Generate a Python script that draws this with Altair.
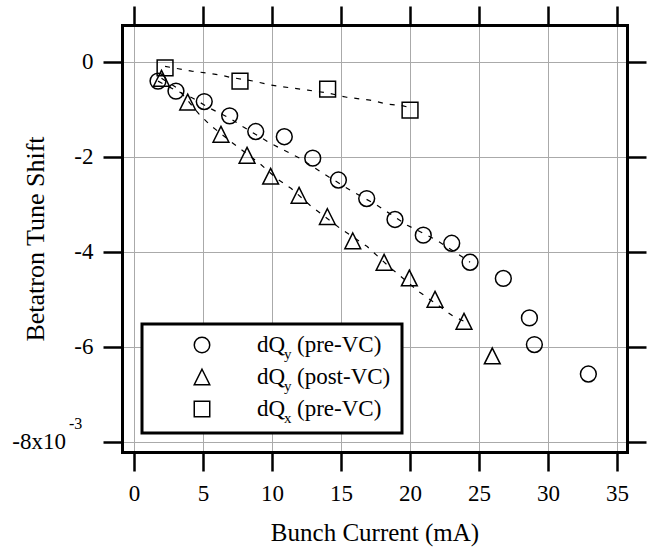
import altair as alt
import pandas as pd

# ---- data (tune shift in units of 1e-3) ----
circ_x = [1.74, 3.04, 5.09, 6.93, 8.82, 10.89, 12.95, 14.81, 16.86, 18.91, 20.96, 23.02, 24.35, 26.76, 28.65, 29.01, 32.92]
circ_y = [-0.41, -0.62, -0.84, -1.14, -1.47, -1.58, -2.03, -2.49, -2.88, -3.32, -3.65, -3.82, -4.22, -4.56, -5.39, -5.95, -6.57]

tri_x = [1.99, 3.89, 6.30, 8.19, 9.90, 11.96, 14.01, 15.85, 18.12, 19.95, 21.81, 23.91, 25.96]
tri_y = [-0.35, -0.85, -1.53, -1.97, -2.41, -2.81, -3.26, -3.77, -4.22, -4.55, -5.00, -5.46, -6.19]

sq_x = [2.25, 7.68, 14.03, 20.0]
sq_y = [-0.13, -0.41, -0.58, -1.02]

# dashed fit curves
fit_c_x = [1.74, 3.0, 4.2, 5.5, 7.0, 7.9, 9.9, 12.0, 13.7, 15.65, 17.6, 19.8, 21.9, 23.6, 24.35]
fit_c_y = [-0.41, -0.60, -0.76, -0.98, -1.20, -1.37, -1.72, -2.03, -2.35, -2.70, -3.02, -3.44, -3.75, -4.07, -4.22]
fit_t_x = [1.99, 3.1, 3.9, 4.7, 5.5, 7.0, 9.1, 10.3, 11.4, 12.75, 14.9, 16.9, 18.55, 20.7, 22.2, 23.1, 23.91]
fit_t_y = [-0.35, -0.55, -0.82, -1.10, -1.33, -1.68, -2.14, -2.45, -2.67, -3.02, -3.50, -3.89, -4.33, -4.85, -5.16, -5.35, -5.46]
fit_s_x = [2.25, 3.21, 4.18, 5.27, 6.23, 6.96, 8.65, 9.86, 11.3, 12.6, 14.03, 15.41, 17.1, 18.3, 19.5, 20.0]
fit_s_y = [-0.10, -0.15, -0.20, -0.24, -0.28, -0.33, -0.41, -0.49, -0.55, -0.60, -0.66, -0.75, -0.81, -0.89, -0.93, -0.97]

series_names = ["circ", "tri", "sq"]
legend_main = ["dQ", "dQ", "dQ"]
legend_sub = ["y", "y", "x"]
legend_rest = ["(pre-VC)", "(post-VC)", "(pre-VC)"]

x_ticks = [0, 5, 10, 15, 20, 25, 30, 35]
y_ticks = [0, -2, -4, -6, -8]
exp_label = ["-8x10"]
exp_value = [-8]
exp_sup = "-3"

# ---- tables ----
pts = pd.DataFrame({
    "x": circ_x + tri_x + sq_x,
    "y": circ_y + tri_y + sq_y,
    "series": ["circ"] * len(circ_x) + ["tri"] * len(tri_x) + ["sq"] * len(sq_x),
})
fits = pd.DataFrame({
    "x": fit_c_x + fit_t_x + fit_s_x,
    "y": fit_c_y + fit_t_y + fit_s_y,
    "series": ["circ"] * len(fit_c_x) + ["tri"] * len(fit_t_x) + ["sq"] * len(fit_s_x),
})
exp_df = pd.DataFrame({"label": exp_label, "y": exp_value})

FONT = "Liberation Serif, Times New Roman, serif"
TRI = "M0,-1L1,1L-1,1Z"
shape_scale = alt.Scale(domain=series_names, range=["circle", TRI, "square"])

W, H = 505, 427
xs = alt.Scale(domain=[-0.87, 35.72], nice=False, zero=False)
ys = alt.Scale(domain=[-8.21, 0.77], nice=False, zero=False)
LABEL_SIZE = 23

axis_common = dict(
    tickSize=19, tickWidth=2.5, tickColor="black",
    domain=True, domainColor="black", domainWidth=3, domainCap="square",
    labelFont=FONT, labelFontSize=LABEL_SIZE, labelColor="black",
    titleFont=FONT, titleFontWeight="normal", titleColor="black",
)

x_bottom = alt.Axis(
    orient="bottom", values=x_ticks, grid=True, gridColor="#aaaaaa", gridWidth=1,
    labelPadding=11, labelExpr="'' + datum.value", labelFlush=False,
    title="Bunch Current (mA)", titleFontSize=25, titleY=88, titleBaseline="alphabetic",
    **axis_common,
)
y_left = alt.Axis(
    orient="left", values=y_ticks, grid=True, gridColor="#aaaaaa", gridWidth=1,
    labelPadding=10, labelFlush=False,
    labelExpr="datum.value == -8 ? '' : (datum.value < 0 ? '-' + abs(datum.value) : '' + datum.value)",
    title="Betatron Tune Shift", titleFontSize=26, titleX=-79, titleY=H / 2,
    titleAngle=270, titleBaseline="alphabetic", titleAlign="center",
    **axis_common,
)
x_top = alt.Axis(orient="top", values=x_ticks, grid=False, labels=False, title=None, **axis_common)
y_right = alt.Axis(orient="right", values=y_ticks, grid=False, labels=False, title=None, **axis_common)

lines = alt.Chart(fits).mark_line(
    color="black", strokeWidth=1.2, strokeDash=[5, 7]
).encode(
    x=alt.X("x:Q", scale=xs, axis=x_top),
    y=alt.Y("y:Q", scale=ys, axis=y_right),
    detail="series:N",
)

points = alt.Chart(pts).mark_point(
    filled=False, color="black", strokeWidth=1.5, opacity=1, size=250
).encode(
    x=alt.X("x:Q", scale=xs, axis=x_bottom),
    y=alt.Y("y:Q", scale=ys, axis=y_left),
    shape=alt.Shape("series:N", scale=shape_scale, legend=None),
)

one = pd.DataFrame({"k": [0]})

# exponent label of the lowest y tick
exp_text = alt.Chart(exp_df).mark_text(
    font=FONT, fontSize=LABEL_SIZE, align="right", baseline="middle", color="black"
).encode(x=alt.value(-56), y=alt.Y("y:Q", scale=ys, axis=None), text="label:N")
sup = alt.Chart(exp_df).mark_text(
    text=exp_sup, font=FONT, fontSize=16, align="left", baseline="middle", color="black", dy=-18
).encode(x=alt.value(-53), y=alt.Y("y:Q", scale=ys, axis=None))

# custom legend
box = alt.Chart(one).mark_rect(fill="white", stroke="black", strokeWidth=3).encode(
    x=alt.value(20), x2=alt.value(280), y=alt.value(299), y2=alt.value(408)
)
legend_layers = [box]
row_y = [320, 352, 384]
shapes = ["circle", TRI, "square"]
for i in range(3):
    cy = row_y[i]
    legend_layers.append(
        alt.Chart(one).mark_point(shape=shapes[i], filled=False, color="black",
                                  strokeWidth=1.5, opacity=1, size=240)
        .encode(x=alt.value(80), y=alt.value(cy))
    )
    legend_layers.append(
        alt.Chart(one).mark_text(text=legend_main[i], font=FONT, fontSize=23, align="left",
                                 baseline="alphabetic", color="black")
        .encode(x=alt.value(135), y=alt.value(cy + 7))
    )
    legend_layers.append(
        alt.Chart(one).mark_text(text=legend_sub[i], font=FONT, fontSize=15, align="left",
                                 baseline="alphabetic", color="black")
        .encode(x=alt.value(162), y=alt.value(cy + 14))
    )
    legend_layers.append(
        alt.Chart(one).mark_text(text=legend_rest[i], font=FONT, fontSize=23, align="left",
                                 baseline="alphabetic", color="black")
        .encode(x=alt.value(175), y=alt.value(cy + 7))
    )

chart = alt.layer(lines, points, exp_text, sup, *legend_layers).resolve_axis(
    x="independent", y="independent"
).properties(
    width=W, height=H,
    padding={"left": 122, "top": 25, "right": 35, "bottom": 97},
    autosize=alt.AutoSizeParams(type="none"),
    background="white",
).configure_view(stroke=None)

chart.save("out.html", embed_options={"renderer": "svg", "actions": False})
